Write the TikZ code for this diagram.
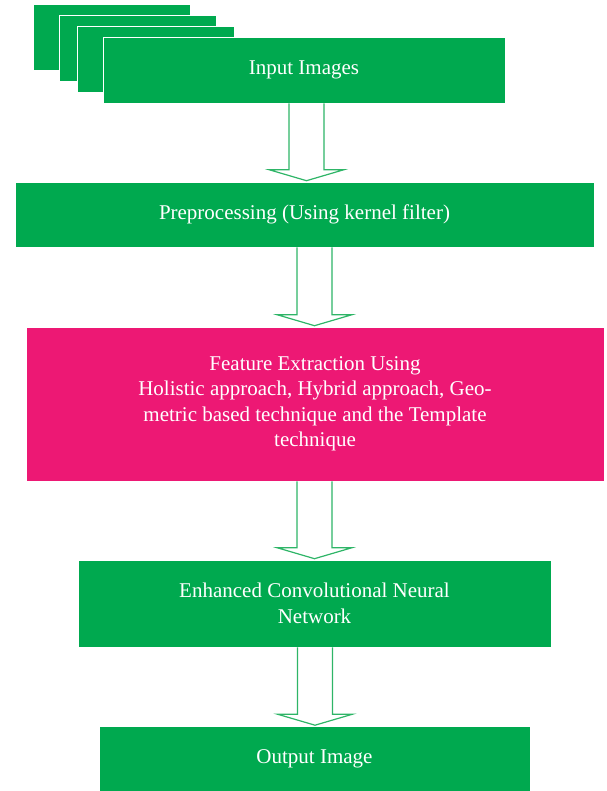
\documentclass[tikz,border=0pt]{standalone}
\usepackage{fontspec}
\setmainfont{Liberation Serif}
\usetikzlibrary{calc}
\definecolor{boxg}{HTML}{00A94F}
\definecolor{boxp}{HTML}{ED1874}
\definecolor{arrg}{HTML}{2EB567}
\tikzset{
  gbox/.style={draw=white,line width=0.6pt,fill=boxg,text=white,align=center,inner sep=0pt,font=\fontsize{21}{26}\selectfont},
  pbox/.style={gbox,fill=boxp,font=\fontsize{21}{25.5}\selectfont},
  fatar/.style={draw=arrg,line width=1.2pt,fill=white,line join=miter}
}

\begin{document}
\begin{tikzpicture}[x=1pt,y=1pt]
\useasboundingbox (0,0) rectangle (606,-791);
% stack of input images
\node[gbox,minimum width=157pt,minimum height=66pt] (img1) at (111.5,-37.5) {};
\node[gbox,minimum width=157pt,minimum height=66pt] (img2) at (137.5,-48) {};
\node[gbox,minimum width=157pt,minimum height=66pt] (img3) at (155.5,-59) {};
\node[gbox,minimum width=402pt,minimum height=66pt] (inp) at (304,-70) {Input Images};
% pipeline
\node[gbox,minimum width=579pt,minimum height=65pt] (prep) at (304.5,-214.5) {Preprocessing (Using kernel filter)};
\node[pbox,minimum width=578pt,minimum height=154pt] (feat) at (315,-404) {Feature Extraction Using\\ Holistic approach, Hybrid approach, Geo-\\ metric based technique and the Template\\ technique};
\node[gbox,minimum width=473pt,minimum height=87pt] (cnn) at (314.5,-603.5) {Enhanced Convolutional Neural\\ Network};
\node[gbox,minimum width=431pt,minimum height=65pt] (out) at (314.5,-759) {Output Image};
% hollow arrows
\foreach \ax/\a/\b in {306.5/inp/prep,314.5/prep/feat,314.5/feat/cnn,315/cnn/out}
  \draw[fatar] let \p1=(\a.south), \p2=(\b.north) in
    (\ax pt-17.5pt,\y1) -- (\ax pt-17.5pt,\y2+12pt) -- (\ax pt-37.5pt,\y2+12pt) -- (\ax pt,\y2+1pt)
    -- (\ax pt+37.5pt,\y2+12pt) -- (\ax pt+17.5pt,\y2+12pt) -- (\ax pt+17.5pt,\y1);
\end{tikzpicture}
\end{document}
